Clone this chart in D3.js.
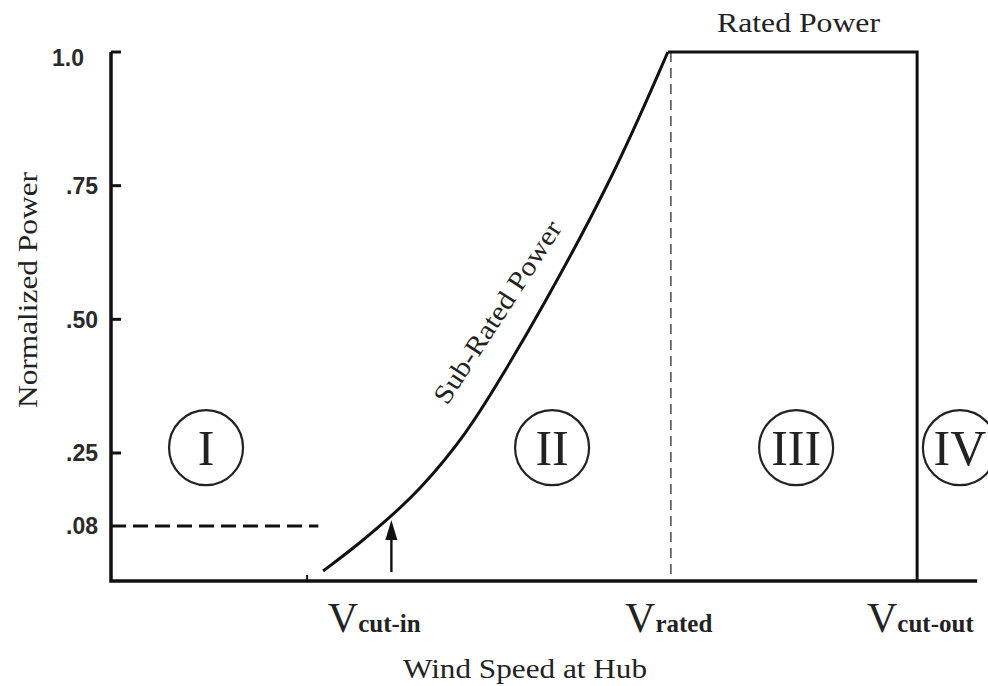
<!DOCTYPE html>
<html lang="en">
    <head>
        <meta charset="utf-8">
        <title>Wind Turbine Power Curve</title>
        <script src="https://d3js.org/d3.v7.min.js"></script>
        <style>
            body {
                margin: 0;
                background: #fff;
            }

            .serif {
                font-family: 'Liberation Serif', 'DejaVu Serif', serif;
                fill: #222;
            }

            .tick-label {
                font-family: 'Liberation Sans', Arial, sans-serif;
                font-size: 23px;
                font-weight: bold;
                fill: #2a2a2a;
                text-anchor: end;
            }

            .axis-line {
                stroke: #111;
                stroke-width: 3.5;
                fill: none;
            }

            .curve {
                stroke: #111;
                stroke-width: 3;
                fill: none;
            }
        </style>
        <script>
            // power curve (wind speed in arbitrary units, power normalised)
            let curveSpeed = [4.91, 5.76, 6.46, 7.15, 8.24, 9.0, 9.93, 11.6, 12.89];
            let curvePower = [0.0145, 0.055, 0.101, 0.164, 0.287, 0.387, 0.514, 0.761, 1.0];
            let ratedSpeed = 12.96;
            let cutOutSpeed = 18.66;
            let cutInTick = 4.54;
            let thresholdPower = 0.08;
            let thresholdEnd = 4.8;
            let arrowSpeed = 6.49;
            let arrowPower = [0.013, 0.094];

            let tickValues = [1.0, 0.75, 0.5, 0.25, 0.08];
            let tickLabels = ['1.0', '.75', '.50', '.25', '.08'];

            let regionNames = ['I', 'II', 'III', 'IV'];
            let regionSpeed = [2.2, 10.21, 15.86, 19.65];
            let regionPower = 0.26;

            let speedLabels = ['cut-in', 'rated', 'cut-out'];
            let speedLabelAt = [5.02, 11.9, 17.5];

            onload = () => {
                let svg = d3.select('#grafico');
                let fnX = d3.scaleLinear().domain([0, 20]).range([111, 975]);
                // the figure is not to scale near the bottom, so the y scale is piecewise
                let fnY = d3.scaleLinear().domain([0, 0.08, 0.25, 1]).range([581, 526, 453, 52]);

                // threshold dashed line
                svg.append('line')
                    .attr('x1', fnX(0)).attr('x2', fnX(thresholdEnd))
                    .attr('y1', fnY(thresholdPower)).attr('y2', fnY(thresholdPower))
                    .attr('stroke', '#111').attr('stroke-width', 3)
                    .attr('stroke-dasharray', '15 7');

                // rated speed dashed line
                svg.append('line')
                    .attr('x1', fnX(ratedSpeed)).attr('x2', fnX(ratedSpeed))
                    .attr('y1', fnY(1)).attr('y2', fnY(0))
                    .attr('stroke', '#555').attr('stroke-width', 1.6)
                    .attr('stroke-dasharray', '10 6');

                // axes
                svg.append('path').classed('axis-line', true)
                    .attr('d', `M${fnX(0)},${fnY(1)} L${fnX(0)},${fnY(0)} L${fnX(20.05)},${fnY(0)}`);

                svg.selectAll('.ytick')
                    .data(tickValues.slice(0, 4))
                    .enter()
                    .append('line')
                    .attr('x1', fnX(0)).attr('x2', fnX(0) + 10)
                    .attr('y1', (d) => fnY(d)).attr('y2', (d) => fnY(d))
                    .attr('stroke', '#111').attr('stroke-width', 3);

                svg.selectAll('.tick-label')
                    .data(tickValues)
                    .enter()
                    .append('text')
                    .classed('tick-label', true)
                    .text((d, i) => tickLabels[i])
                    .attr('x', (d) => d == 1 ? 84 : 98)
                    .attr('y', (d) => fnY(d))
                    .attr('dy', (d) => d == 1 ? '0.6em' : '0.36em');

                // small mark near cut-in
                svg.append('line')
                    .attr('x1', fnX(cutInTick)).attr('x2', fnX(cutInTick))
                    .attr('y1', fnY(0)).attr('y2', fnY(0) - 6)
                    .attr('stroke', '#111').attr('stroke-width', 2);

                // sub-rated curve (b-spline to smooth out reading noise)
                let linha = d3.line()
                    .x((d) => fnX(d[0]))
                    .y((d) => fnY(d[1]))
                    .curve(d3.curveBasis);
                svg.append('path').classed('curve', true)
                    .attr('d', linha(d3.zip(curveSpeed, curvePower)));

                // rated power plateau and cut-out drop
                let plateau = [[curveSpeed[curveSpeed.length - 1], 1], [cutOutSpeed, 1], [cutOutSpeed, 0]];
                svg.append('path').classed('curve', true)
                    .attr('d', d3.line().x((d) => fnX(d[0])).y((d) => fnY(d[1]))(plateau));

                // arrow
                let ax = fnX(arrowSpeed);
                let tip = fnY(arrowPower[1]);
                svg.append('line')
                    .attr('x1', ax).attr('x2', ax)
                    .attr('y1', fnY(arrowPower[0])).attr('y2', tip + 14)
                    .attr('stroke', '#111').attr('stroke-width', 2.4);
                svg.append('path')
                    .attr('d', `M${ax},${tip} L${ax - 6},${tip + 20} L${ax + 6},${tip + 20} Z`)
                    .attr('fill', '#111');

                // region circles
                let regioes = svg.selectAll('.regiao')
                    .data(regionNames)
                    .enter()
                    .append('g')
                    .attr('transform', (d, i) => `translate(${fnX(regionSpeed[i])},${fnY(regionPower)})`);
                regioes.append('ellipse')
                    .attr('rx', 37).attr('ry', 37.5)
                    .attr('fill', 'none').attr('stroke', '#222').attr('stroke-width', 2.2);
                regioes.append('text').classed('serif', true)
                    .attr('text-anchor', 'middle')
                    .attr('dy', '0.34em')
                    .style('font-size', '50px')
                    .text((d) => d);

                // speed labels under the axis
                let rotulos = svg.selectAll('.vlabel')
                    .data(speedLabels)
                    .enter()
                    .append('text')
                    .classed('serif', true)
                    .attr('x', (d, i) => fnX(speedLabelAt[i]))
                    .attr('y', 632);
                rotulos.append('tspan').style('font-size', '42px').text('V');
                rotulos.append('tspan').style('font-size', '25px').style('font-weight', 'bold').text((d) => d);

                // titles
                svg.append('text').classed('serif', true)
                    .attr('x', 403).attr('y', 678)
                    .attr('textLength', 244).attr('lengthAdjust', 'spacingAndGlyphs')
                    .style('font-size', '28px')
                    .text('Wind Speed at Hub');

                svg.append('text').classed('serif', true)
                    .attr('transform', 'translate(37,290) rotate(-90)')
                    .attr('text-anchor', 'middle')
                    .attr('textLength', 236).attr('lengthAdjust', 'spacingAndGlyphs')
                    .style('font-size', '28px')
                    .text('Normalized Power');

                svg.append('text').classed('serif', true)
                    .attr('x', 717).attr('y', 32)
                    .attr('textLength', 163).attr('lengthAdjust', 'spacingAndGlyphs')
                    .style('font-size', '28px')
                    .text('Rated Power');

                svg.append('text').classed('serif', true)
                    .attr('transform', 'translate(505,317) rotate(-57)')
                    .attr('text-anchor', 'middle')
                    .attr('textLength', 212).attr('lengthAdjust', 'spacingAndGlyphs')
                    .style('font-size', '27px')
                    .text('Sub-Rated Power');
            };
        </script>
    </head>
    <body>
        <svg id="grafico" width="988" height="686"></svg>
    </body>
</html>
